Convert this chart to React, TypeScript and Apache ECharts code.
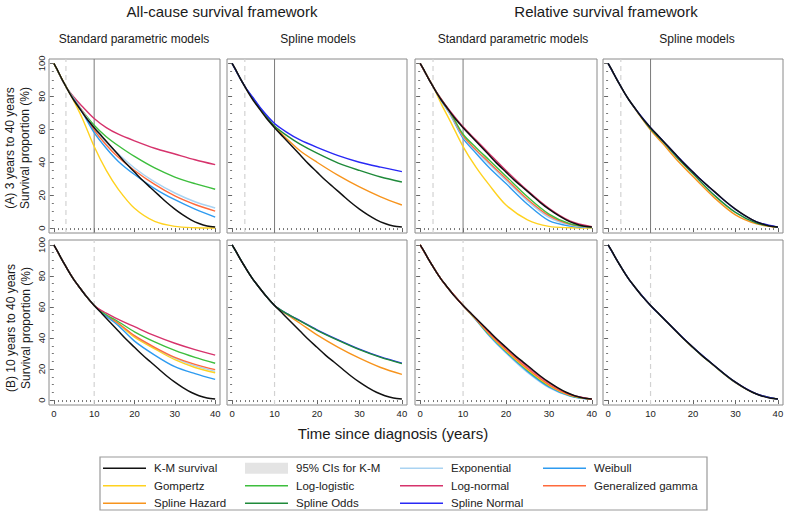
import React, { useEffect, useRef } from 'react';
import * as echarts from 'echarts';

const FONT = '"Liberation Sans", Arial, Helvetica, sans-serif';

// ---- Data ----
const KM_TIME = [0, 1, 2, 3, 4, 5, 6, 8, 10, 12, 14, 16, 18, 20, 22, 24, 26, 28, 30, 32, 34, 36, 38, 40];
const KM_SURV = [100, 95.5, 90.5, 86, 81.5, 77.5, 74, 67, 61, 55.5, 50, 44.5, 39, 34, 29, 24.5, 20, 15.5, 11.5, 8, 5, 2.8, 1.3, 0.6];

const MODEL_TIME = [0, 3, 5, 7, 10, 13, 16, 20, 25, 30, 35, 40];

// (A) 3 years to 40 years — all-cause, standard parametric
const A_ALL_EXP = [100, 86, 78.5, 71.5, 60.5, 52, 45, 36.5, 28, 21.3, 16, 12.2];
const A_ALL_WEI = [100, 86, 78, 70.5, 58, 48.5, 40.5, 32.5, 24, 17.2, 11.5, 6.7];
const A_ALL_GG = [100, 86, 78, 71, 59.5, 50.5, 43, 35, 26.5, 19.5, 14.3, 10.3];
const A_ALL_GOM = [100, 86, 77, 67, 49.5, 35, 23.5, 12, 4, 1, 0.2, 0];
const A_ALL_LL = [100, 86, 78.5, 71.5, 62.5, 55.5, 50, 43.5, 36.5, 31, 27, 23.6];
const A_ALL_LN = [100, 86, 79.5, 74, 66.5, 61, 57, 53, 48.5, 45, 41.5, 38.5];
// (A) all-cause, spline
const A_ALL_SH = [100, 86, 78, 71, 61.5, 54, 47, 40, 32, 25, 19, 14];
const A_ALL_SO = [100, 86, 78.5, 71.5, 62, 56, 51, 45.5, 39.5, 35, 31, 28];
const A_ALL_SN = [100, 86, 79, 72, 63.5, 58, 53.5, 49, 44, 40, 37, 34.3];
// (A) relative, standard parametric
const A_REL_EXP = [100, 86, 77.5, 69.5, 55.5, 47, 39, 29, 16.5, 6.5, 1.8, 0.4];
const A_REL_WEI = [100, 86, 77, 69, 54.5, 45.5, 37, 27, 14.5, 4.5, 1.2, 0.3];
const A_REL_GG = [100, 86, 77.5, 70, 56, 47.5, 40, 30, 17.5, 7.5, 2.2, 0.5];
const A_REL_GOM = [100, 86, 75, 65, 49.5, 37, 26.5, 14, 5, 1, 0.2, 0];
const A_REL_LL = [100, 86, 78, 70.5, 57, 49, 41.5, 31.5, 19, 8.5, 2.5, 0.5];
const A_REL_LN = [100, 86, 78, 71, 61.5, 53.5, 45.5, 35, 22.8, 12, 4.2, 0.8];
// (A) relative, spline
const A_REL_SH = [100, 86, 77.5, 70, 59.5, 51, 42, 31.3, 18.5, 8, 2.5, 0.4];
const A_REL_SO = [100, 86, 77.5, 70.3, 60.3, 52.3, 43.5, 33, 20, 9.5, 3, 0.5];
const A_REL_SN = [100, 86, 77.5, 70.5, 61, 52.8, 44.5, 34, 22, 11.3, 3.8, 0.6];

// (B) 10 years to 40 years — all-cause, standard parametric
const B_ALL_EXP = [100, 86, 77.5, 70.5, 61, 54.5, 49, 41, 33.5, 27, 22, 18.5];
const B_ALL_WEI = [100, 86, 77.5, 70.5, 61, 54, 48, 38, 29, 21.5, 17, 13.3];
const B_ALL_GG = [100, 86, 77.5, 70.5, 61, 54.5, 49.5, 41.5, 34, 27.5, 23, 19.6];
const B_ALL_GOM = [100, 86, 77.5, 70.5, 61, 54.5, 49, 40.5, 33, 26, 21, 17.6];
const B_ALL_LL = [100, 86, 77.5, 70.5, 61, 55, 50.5, 44, 37.5, 32, 27.5, 23.7];
const B_ALL_LN = [100, 86, 77.5, 70.5, 61, 56, 52, 47.3, 41.5, 36.6, 32.5, 29];
// (B) all-cause, spline
const B_ALL_SH = [100, 86, 77.5, 70.5, 61, 55, 49.5, 42, 34, 27, 21, 16.5];
const B_ALL_SO = [100, 86, 77.5, 70.5, 61, 55.5, 51, 45, 38.5, 32.5, 27.5, 23.5];
const B_ALL_SN = [100, 86, 77.5, 70.5, 61, 55.6, 51.2, 45.3, 38.8, 32.8, 27.8, 23.8];
// (B) relative, standard parametric
const B_REL_LN = [100, 86, 77.5, 70.5, 61, 52.6, 44, 33.5, 21.5, 11, 3.7, 0.6];
const B_REL_GG = [100, 86, 77.5, 70.5, 61, 52.3, 43.3, 32.5, 20.3, 10, 3.2, 0.5];
const B_REL_GOM = [100, 86, 77.5, 70.5, 61, 52.1, 42.8, 31.8, 19.7, 9.5, 3, 0.5];
const B_REL_LL = [100, 86, 77.5, 70.5, 61, 52, 42.5, 31.5, 19.3, 9.2, 2.9, 0.5];
const B_REL_WEI = [100, 86, 77.5, 70.5, 61, 51.8, 42, 30.8, 18.5, 8.5, 2.6, 0.4];
const B_REL_EXP = [100, 86, 77.5, 70.5, 61, 51.6, 41.6, 30.3, 17.8, 8, 2.4, 0.4];
// (B) relative, spline
const B_REL_SH = [100, 86, 77.5, 70.5, 61, 52.6, 44.2, 33.7, 22, 11.2, 3.8, 0.6];
const B_REL_SO = [100, 86, 77.5, 70.5, 61, 52.7, 44.3, 33.8, 22.1, 11.3, 3.8, 0.6];
const B_REL_SN = [100, 86, 77.5, 70.5, 61, 52.8, 44.5, 34, 22.3, 11.5, 3.9, 0.6];

const X_MAJOR = [0, 10, 20, 30, 40];
const X_MINOR = [1, 2, 3, 4, 5, 6, 7, 8, 9, 11, 12, 13, 14, 15, 16, 17, 18, 19, 21, 22, 23, 24, 25, 26, 27, 28, 29, 31, 32, 33, 34, 35, 36, 37, 38, 39];
const Y_MAJOR = [0, 20, 40, 60, 80, 100];
const Y_MINOR = [5, 10, 15, 25, 30, 35, 45, 50, 55, 65, 70, 75, 85, 90, 95];

const KM = 'K-M survival';
const CI = '95% CIs for K-M';
const LEGEND_COLS = [
  [KM, 'Gompertz', 'Spline Hazard'],
  [CI, 'Log-logistic', 'Spline Odds'],
  ['Exponential', 'Log-normal', 'Spline Normal'],
  ['Weibull', 'Generalized gamma'],
];

const COLORS: Record<string, string> = {
  [KM]: '#111111',
  [CI]: '#e4e4e4',
  Gompertz: '#ffd21f',
  'Spline Hazard': '#f7941d',
  'Log-logistic': '#3dbe3d',
  'Spline Odds': '#1f8a3a',
  Exponential: '#a9d3f2',
  'Log-normal': '#d6336c',
  'Spline Normal': '#2929f5',
  Weibull: '#2e9bf0',
  'Generalized gamma': '#ff6a3c',
};

type Panel = {
  box: [number, number, number, number];
  yRange: [number, number];
  xLabels: boolean;
  yLabels: boolean;
  dashedAt: number[];
  solidAt: number[];
  models: [string, number[]][];
};

const PANELS: Panel[] = [
  { box: [49, 59, 171, 174], yRange: [-3, 102.7], xLabels: false, yLabels: true, dashedAt: [3], solidAt: [10],
    models: [['Log-normal', A_ALL_LN], ['Log-logistic', A_ALL_LL], ['Exponential', A_ALL_EXP], ['Generalized gamma', A_ALL_GG], ['Weibull', A_ALL_WEI], ['Gompertz', A_ALL_GOM]] },
  { box: [227, 59, 180, 174], yRange: [-3, 102.7], xLabels: false, yLabels: false, dashedAt: [3], solidAt: [10],
    models: [['Spline Hazard', A_ALL_SH], ['Spline Odds', A_ALL_SO], ['Spline Normal', A_ALL_SN]] },
  { box: [415, 59, 182, 174], yRange: [-3, 102.7], xLabels: false, yLabels: false, dashedAt: [3], solidAt: [10],
    models: [['Gompertz', A_REL_GOM], ['Weibull', A_REL_WEI], ['Exponential', A_REL_EXP], ['Generalized gamma', A_REL_GG], ['Log-logistic', A_REL_LL], ['Log-normal', A_REL_LN]] },
  { box: [603, 59, 180, 174], yRange: [-3, 102.7], xLabels: false, yLabels: false, dashedAt: [3], solidAt: [10],
    models: [['Spline Hazard', A_REL_SH], ['Spline Odds', A_REL_SO], ['Spline Normal', A_REL_SN]] },
  { box: [49, 240, 171, 165], yRange: [-3.2, 103.2], xLabels: true, yLabels: true, dashedAt: [10], solidAt: [],
    models: [['Exponential', B_ALL_EXP], ['Gompertz', B_ALL_GOM], ['Generalized gamma', B_ALL_GG], ['Weibull', B_ALL_WEI], ['Log-logistic', B_ALL_LL], ['Log-normal', B_ALL_LN]] },
  { box: [227, 240, 180, 165], yRange: [-3.2, 103.2], xLabels: true, yLabels: false, dashedAt: [10], solidAt: [],
    models: [['Spline Hazard', B_ALL_SH], ['Spline Normal', B_ALL_SN], ['Spline Odds', B_ALL_SO]] },
  { box: [415, 240, 182, 165], yRange: [-3.2, 103.2], xLabels: true, yLabels: false, dashedAt: [10], solidAt: [],
    models: [['Exponential', B_REL_EXP], ['Weibull', B_REL_WEI], ['Log-logistic', B_REL_LL], ['Gompertz', B_REL_GOM], ['Generalized gamma', B_REL_GG], ['Log-normal', B_REL_LN]] },
  { box: [603, 240, 180, 165], yRange: [-3.2, 103.2], xLabels: true, yLabels: false, dashedAt: [10], solidAt: [],
    models: [['Spline Hazard', B_REL_SH], ['Spline Odds', B_REL_SO], ['Spline Normal', B_REL_SN]] },
];

const LINE_ICON = 'path://M0,0 L43,0 L43,1.4 L0,1.4 Z';

function buildOption() {
  const grid: any[] = [];
  const xAxis: any[] = [];
  const yAxis: any[] = [];
  const series: any[] = [];
  const X_MIN = -1.2;
  const X_MAX = 41.2;

  PANELS.forEach((p, i) => {
    const [left, top, width, height] = p.box;
    grid.push({ left, top, width, height, show: true, borderColor: '#8a8a8a', borderWidth: 1, backgroundColor: 'transparent' });
    const xBase = {
      type: 'value', gridIndex: i, min: X_MIN, max: X_MAX, position: 'bottom',
      axisLine: { show: false }, splitLine: { show: false },
    };
    xAxis.push({
      ...xBase,
      axisTick: { show: true, customValues: X_MAJOR, length: 4, lineStyle: { color: '#666', width: 1 } },
      axisLabel: { show: p.xLabels, customValues: X_MAJOR, fontSize: 9.5, color: '#222', margin: 3, fontFamily: FONT },
    });
    xAxis.push({
      ...xBase,
      axisTick: { show: true, customValues: X_MINOR, length: 2, lineStyle: { color: '#777', width: 1 } },
      axisLabel: { show: false },
    });
    const yBase = {
      type: 'value', gridIndex: i, min: p.yRange[0], max: p.yRange[1], position: 'left',
      axisLine: { show: false }, splitLine: { show: false },
    };
    yAxis.push({
      ...yBase,
      axisTick: { show: true, customValues: Y_MAJOR, length: 4, lineStyle: { color: '#666', width: 1 } },
      axisLabel: { show: p.yLabels, customValues: Y_MAJOR, rotate: 90, fontSize: 9.5, color: '#222', margin: 3, fontFamily: FONT },
    });
    yAxis.push({
      ...yBase,
      axisTick: { show: true, customValues: Y_MINOR, length: 2, lineStyle: { color: '#777', width: 1 } },
      axisLabel: { show: false },
    });

    const xi = 2 * i;
    const yi = 2 * i;
    p.dashedAt.forEach((t) => {
      series.push({
        type: 'line', xAxisIndex: xi, yAxisIndex: yi, silent: true, symbol: 'none',
        data: [[t, p.yRange[0]], [t, p.yRange[1]]],
        lineStyle: { color: '#d2d2d2', width: 1.2, type: [5, 4] }, z: 1,
      });
    });
    p.solidAt.forEach((t) => {
      series.push({
        type: 'line', xAxisIndex: xi, yAxisIndex: yi, silent: true, symbol: 'none',
        data: [[t, p.yRange[0]], [t, p.yRange[1]]],
        lineStyle: { color: '#7a7a7a', width: 1 }, z: 1,
      });
    });
    p.models.forEach(([name, vals]) => {
      series.push({
        type: 'line', name, xAxisIndex: xi, yAxisIndex: yi, symbol: 'none', smooth: 0.3,
        data: MODEL_TIME.map((t, k) => [t, vals[k]]),
        lineStyle: { color: COLORS[name], width: 1.4 }, itemStyle: { color: COLORS[name] }, z: 2,
      });
    });
    series.push({
      type: 'line', name: KM, xAxisIndex: xi, yAxisIndex: yi, symbol: 'none', smooth: 0.3,
      data: KM_TIME.map((t, k) => [t, KM_SURV[k]]),
      lineStyle: { color: COLORS[KM], width: 1.5 }, itemStyle: { color: COLORS[KM] }, z: 3,
    });
  });

  series.push({
    type: 'line', name: CI, xAxisIndex: 0, yAxisIndex: 0, symbol: 'none', data: [],
    lineStyle: { color: COLORS[CI] }, itemStyle: { color: COLORS[CI] },
  });

  const LEG_X = [103, 245, 400, 543];
  const legend = LEGEND_COLS.map((names, c) => ({
    orient: 'vertical', left: LEG_X[c], top: 462.2, padding: 0,
    itemWidth: 43, itemHeight: 11, itemGap: 5.5, selectedMode: false,
    data: names.map((n) =>
      n === CI
        ? { name: n, icon: 'rect', itemStyle: { color: COLORS[CI], borderWidth: 0 } }
        : { name: n, icon: LINE_ICON, itemStyle: { color: COLORS[n], borderWidth: 0 } }
    ),
    textStyle: { fontSize: 11.5, color: '#222', fontFamily: FONT, lineHeight: 11, padding: [0, 0, 0, 3] },
  }));

  const txt = (text: string, x: number, y: number, size: number, rot = 0) => ({
    type: 'text', x, y, rotation: rot, silent: true,
    style: { text, fontSize: size, fontFamily: FONT, fill: '#1a1a1a', textAlign: 'center', textVerticalAlign: 'middle' },
  });

  const graphic = [
    txt('All-cause survival framework', 222, 11, 15),
    txt('Relative survival framework', 606, 11, 15),
    txt('Standard parametric models', 134, 39, 12),
    txt('Spline models', 318, 39, 12),
    txt('Standard parametric models', 513, 39, 12),
    txt('Spline models', 697, 39, 12),
    txt('(A) 3 years to 40 years', 10, 148, 12, Math.PI / 2),
    txt('Survival proportion (%)', 25, 148, 12, Math.PI / 2),
    txt('(B) 10 years to 40 years', 11, 328, 12, Math.PI / 2),
    txt('Survival proportion (%)', 26, 328, 12, Math.PI / 2),
    txt('Time since diagnosis (years)', 393, 433, 15),
    {
      type: 'rect', silent: true, shape: { x: 100, y: 457, width: 607, height: 53 },
      style: { fill: 'none', stroke: '#9a9a9a', lineWidth: 1.2 },
    },
  ];

  return {
    animation: false,
    backgroundColor: '#ffffff',
    grid, xAxis, yAxis, series, legend, graphic,
  };
}

export default function App() {
  const ref = useRef<HTMLDivElement>(null);
  useEffect(() => {
    document.body.style.margin = '0';
    if (!ref.current) return;
    const chart = echarts.init(ref.current, null, { renderer: 'svg' });
    chart.setOption(buildOption() as any);
    return () => chart.dispose();
  }, []);
  return <div ref={ref} style={{ width: 790, height: 515 }} />;
}
